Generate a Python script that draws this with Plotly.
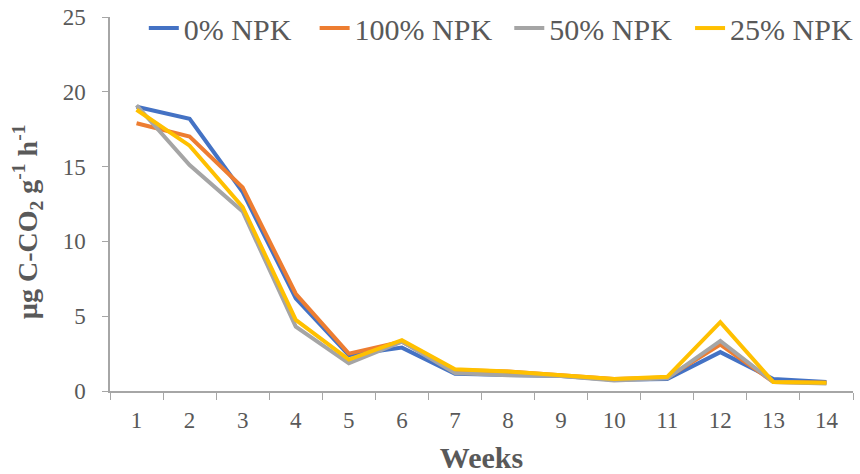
import plotly.graph_objects as go

# Weekly soil respiration under four fertiliser rates
weeks = [str(w) for w in range(1, 15)]
npk_0 = [19.0, 18.2, 13.3, 6.2, 2.4, 2.9, 1.15, 1.1, 1.0, 0.75, 0.8, 2.6, 0.8, 0.6]
npk_100 = [17.9, 17.0, 13.6, 6.5, 2.5, 3.3, 1.4, 1.3, 1.05, 0.8, 0.9, 3.1, 0.6, 0.55]
npk_50 = [19.1, 15.1, 12.0, 4.3, 1.85, 3.3, 1.2, 1.05, 1.0, 0.7, 0.85, 3.35, 0.6, 0.5]
npk_25 = [18.8, 16.4, 12.3, 4.75, 2.1, 3.4, 1.45, 1.3, 1.05, 0.8, 0.95, 4.6, 0.6, 0.55]

series = [
    ("0% NPK", npk_0, "#4472C4"),
    ("100% NPK", npk_100, "#ED7D31"),
    ("50% NPK", npk_50, "#A5A5A5"),
    ("25% NPK", npk_25, "#FFC000"),
]

font_family = "Times New Roman, Liberation Serif, serif"
text_color = "#595959"
axis_color = "#A6A6A6"

# one legend box per series so each entry can sit at its own spot on the top row
legend_ids = ["legend", "legend2", "legend3", "legend4"]
legend_x = [0.0455, 0.2754, 0.5374, 0.7807]

fig = go.Figure()
for (name, values, color), lid in zip(series, legend_ids):
    fig.add_trace(go.Scatter(
        x=weeks, y=values, name=name, mode="lines",
        line=dict(color=color, width=4), legend=lid,
    ))

legend_style = dict(
    orientation="h", y=1.04, xanchor="left", yanchor="top",
    font=dict(family=font_family, size=30, color=text_color),
    bgcolor="rgba(0,0,0,0)", itemwidth=30,
)

fig.update_layout(
    width=860, height=474,
    margin=dict(l=110, r=2, t=17, b=83),
    paper_bgcolor="white", plot_bgcolor="white",
    font=dict(family=font_family, color=text_color),
    showlegend=True,
    **{lid: dict(x=lx, **legend_style) for lid, lx in zip(legend_ids, legend_x)},
)

fig.update_xaxes(
    type="category", tickson="boundaries", range=[-0.5, 13.5],
    showline=True, linecolor=axis_color, linewidth=1.5,
    ticks="outside", ticklen=7, tickcolor=axis_color,
    showgrid=False, zeroline=False, ticklabelstandoff=8,
    tickfont=dict(family=font_family, size=23, color=text_color),
    title=dict(text="<b>Weeks</b>", font=dict(family=font_family, size=30, color=text_color), standoff=16),
)

fig.update_yaxes(
    range=[0, 25], tickvals=[0, 5, 10, 15, 20, 25],
    showline=True, linecolor=axis_color, linewidth=1.5,
    ticks="outside", ticklen=6, tickcolor=axis_color,
    showgrid=False, zeroline=False, ticklabelstandoff=12,
    tickfont=dict(family=font_family, size=23, color=text_color),
)

# Y-axis title placed as a rotated annotation
fig.add_annotation(
    text="<b>µg C-CO<sub>2</sub> g<sup>-1</sup> h<sup>-1</sup></b>",
    xref="paper", yref="paper", x=-0.11, y=0.452,
    xanchor="center", yanchor="middle", textangle=-90, showarrow=False,
    font=dict(family=font_family, size=28, color=text_color),
)

fig.write_html("out.html")
